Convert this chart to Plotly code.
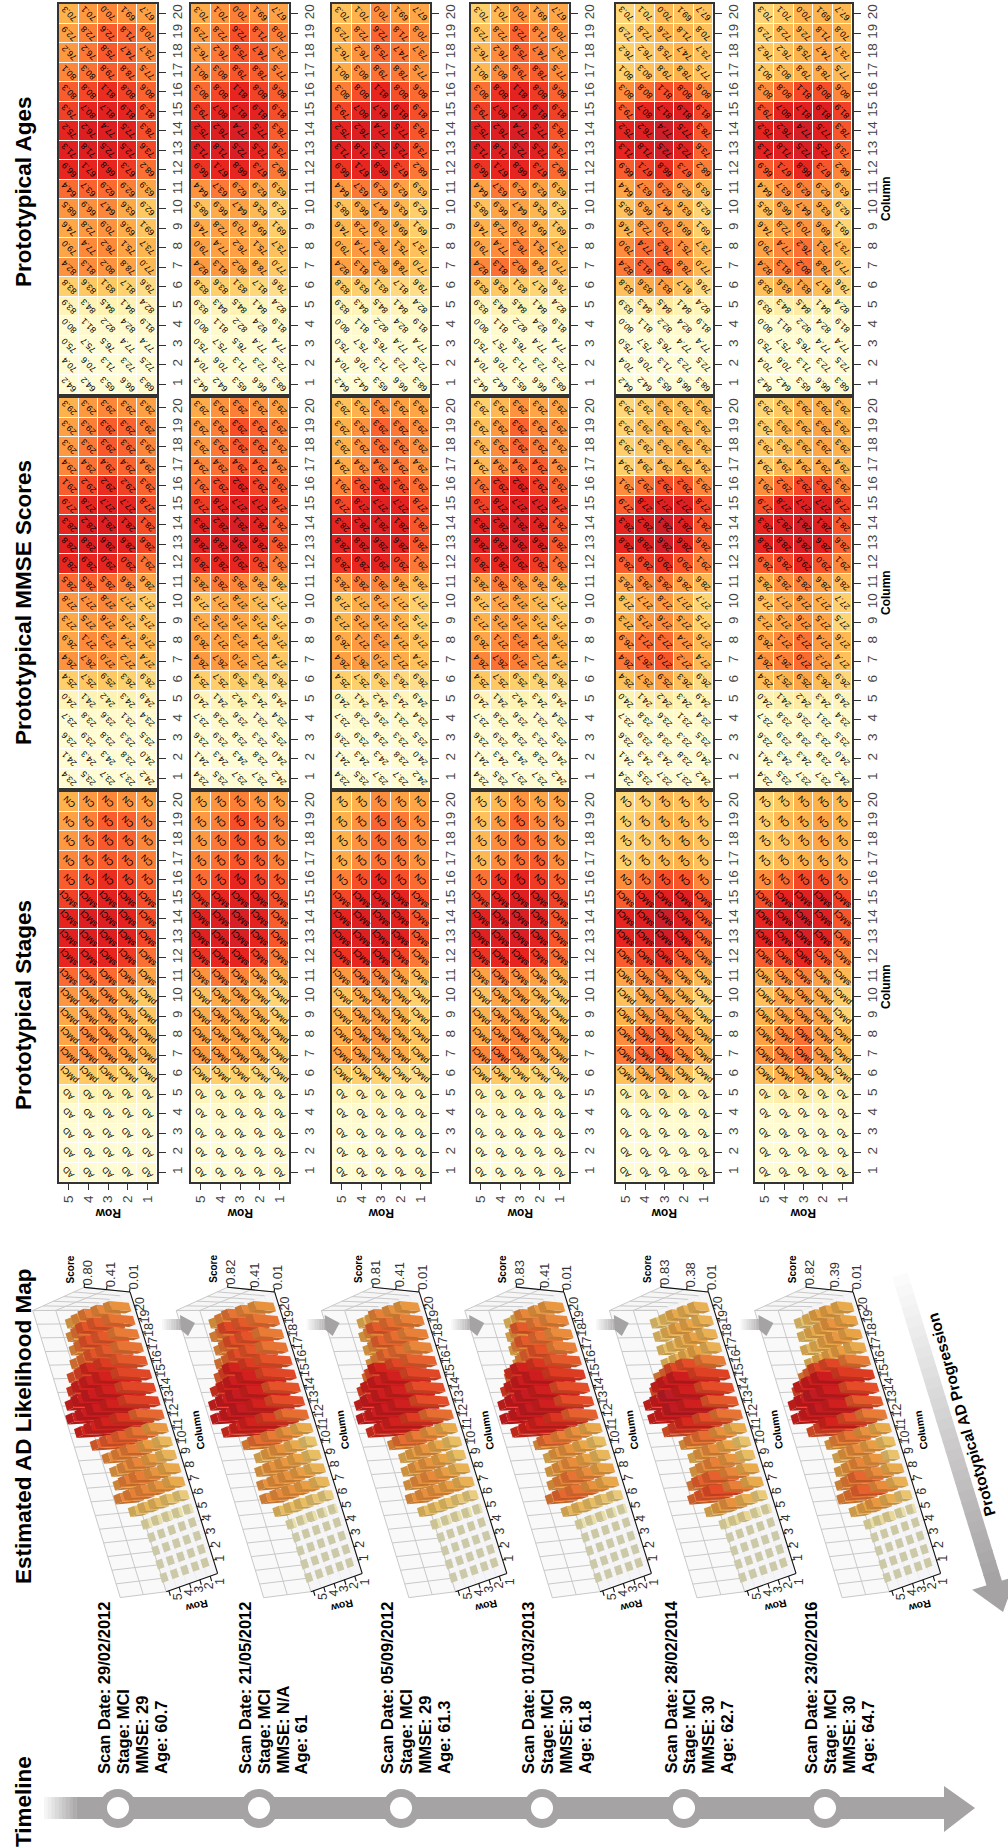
import plotly.graph_objects as go

FONT = "Liberation Sans"
ROW_ORDER = [5, 4, 3, 2, 1]
COLUMNS = list(range(1, 21))
EARLY = [[.01, .01, .01, .01, .02], [.01, .01, .01, .01, .01], [.01, .01, .01, .01, .01], [.01, .02, .02, .02, .02]]

# each list holds columns 1..20, each column gives rows 5,4,3,2,1
scores_1 = EARLY + [[.05, .06, .06, .06, .05], [.20, .22, .22, .19, .15], [.38, .40, .38, .33, .26], [.32, .41, .41, .33, .27],
    [.31, .36, .38, .30, .23], [.37, .39, .42, .31, .22], [.50, .52, .50, .44, .32], [.70, .72, .72, .64, .48],
    [.78, .80, .80, .74, .60], [.72, .80, .80, .74, .58], [.62, .72, .76, .72, .58], [.54, .60, .68, .62, .52],
    [.42, .48, .54, .52, .44], [.36, .46, .55, .52, .42], [.34, .44, .54, .52, .44], [.28, .36, .42, .38, .34]]
scores_2 = EARLY + [[.05, .05, .06, .05, .04], [.20, .20, .20, .17, .14], [.36, .36, .34, .30, .22], [.34, .34, .34, .30, .24],
    [.30, .34, .32, .28, .20], [.24, .30, .34, .26, .18], [.38, .46, .42, .34, .26], [.66, .70, .72, .62, .46],
    [.78, .80, .81, .72, .56], [.74, .80, .81, .74, .54], [.64, .72, .78, .74, .58], [.50, .60, .72, .62, .54],
    [.42, .48, .56, .54, .44], [.36, .46, .56, .54, .42], [.36, .44, .58, .52, .44], [.30, .38, .44, .38, .34]]
scores_3 = EARLY + [[.05, .05, .06, .05, .04], [.20, .20, .19, .16, .14], [.34, .35, .33, .30, .24], [.30, .36, .37, .30, .24],
    [.27, .33, .33, .28, .20], [.24, .30, .33, .27, .20], [.36, .46, .42, .34, .26], [.66, .70, .74, .62, .46],
    [.76, .79, .80, .76, .56], [.72, .80, .79, .74, .56], [.60, .72, .78, .74, .58], [.44, .58, .70, .58, .50],
    [.30, .40, .48, .46, .38], [.28, .38, .50, .46, .40], [.28, .38, .52, .46, .40], [.24, .28, .40, .34, .32]]
scores_4 = EARLY + [[.05, .06, .06, .05, .04], [.22, .22, .20, .18, .15], [.42, .48, .44, .34, .27], [.32, .40, .44, .36, .28],
    [.28, .34, .36, .28, .22], [.24, .32, .34, .27, .20], [.34, .46, .40, .34, .27], [.66, .70, .72, .64, .50],
    [.78, .80, .81, .76, .56], [.74, .80, .81, .76, .56], [.62, .74, .80, .78, .62], [.48, .66, .74, .64, .52],
    [.26, .40, .50, .54, .40], [.26, .40, .52, .46, .36], [.24, .36, .52, .42, .38], [.20, .26, .38, .32, .32]]
scores_5 = EARLY + [[.06, .08, .10, .06, .05], [.24, .30, .34, .24, .15], [.46, .52, .56, .40, .26], [.40, .50, .50, .38, .26],
    [.28, .36, .40, .32, .20], [.24, .32, .36, .28, .18], [.32, .42, .46, .34, .26], [.54, .62, .68, .56, .44],
    [.72, .78, .82, .76, .52], [.72, .79, .83, .77, .56], [.54, .70, .78, .79, .60], [.40, .48, .58, .56, .42],
    [.20, .24, .26, .28, .24], [.20, .22, .25, .28, .24], [.19, .24, .28, .27, .24], [.17, .20, .26, .24, .24]]
scores_6 = EARLY + [[.06, .08, .09, .06, .05], [.24, .28, .32, .25, .17], [.38, .44, .50, .36, .24], [.34, .42, .48, .36, .26],
    [.28, .34, .38, .32, .18], [.24, .32, .36, .30, .20], [.30, .40, .44, .34, .26], [.54, .60, .70, .56, .42],
    [.74, .78, .81, .76, .52], [.72, .80, .82, .78, .56], [.58, .74, .78, .80, .62], [.40, .50, .60, .58, .42],
    [.22, .26, .28, .30, .26], [.22, .24, .28, .32, .28], [.20, .26, .28, .33, .28], [.18, .22, .28, .28, .26]]
ALL_SCORES = [scores_1, scores_2, scores_3, scores_4, scores_5, scores_6]

ages = [[64.2, 64.2, 65.3, 66.6, 68.3], [70.4, 70.6, 71.3, 72.3, 72.5], [75.0, 75.7, 76.5, 77.4, 77.4], [80.0, 81.1, 82.2, 82.4, 81.9],
    [83.9, 84.3, 84.5, 84.1, 82.4], [83.8, 83.6, 83.1, 81.7, 79.6], [82.4, 81.3, 80.2, 78.8, 77.0], [79.0, 77.4, 76.2, 75.1, 73.7],
    [74.6, 72.8, 70.9, 69.6, 69.1], [68.5, 66.9, 64.7, 63.6, 62.9], [64.4, 63.7, 62.9, 62.9, 63.9], [66.9, 67.1, 66.8, 67.3, 68.2],
    [71.3, 71.8, 72.5, 72.5, 73.6], [75.2, 76.2, 77.4, 77.5, 78.3], [79.3, 80.7, 81.7, 81.9, 81.9], [80.3, 80.8, 81.1, 80.8, 80.6],
    [80.1, 80.3, 79.8, 78.8, 77.5], [76.2, 76.2, 75.8, 74.7, 73.7], [72.9, 72.8, 72.6, 71.8, 70.8], [70.3, 70.1, 70.0, 69.1, 67.7]]
mmse = [[23.4, 23.5, 23.7, 23.7, 24.2], [24.1, 24.3, 24.3, 23.8, 24.0], [23.6, 23.9, 23.8, 23.3, 23.5], [23.7, 23.8, 23.6, 23.1, 23.4],
    [24.0, 24.1, 24.2, 24.3, 24.9], [25.4, 25.7, 25.9, 26.3, 26.9], [26.4, 26.7, 27.0, 27.2, 27.4], [26.9, 27.1, 27.3, 27.4, 27.6],
    [27.3, 27.5, 27.6, 27.5, 27.5], [27.8, 27.7, 27.8, 27.7, 27.7], [28.5, 28.5, 28.5, 28.6, 28.6], [28.9, 28.9, 29.0, 29.0, 29.1],
    [28.8, 28.8, 28.6, 28.6, 28.6], [28.3, 28.2, 28.1, 28.1, 28.1], [27.9, 27.8, 27.7, 27.7, 27.8], [29.1, 29.2, 29.2, 29.2, 29.3],
    [29.4, 29.4, 29.4, 29.4, 29.4], [29.3, 29.3, 29.3, 29.3, 29.3], [29.3, 29.3, 29.3, 29.3, 29.3], [29.3, 29.3, 29.3, 29.3, 29.3]]
stage_by_column = ["AD"] * 5 + ["pMCI"] * 5 + ["sMCI"] * 5 + ["CN"] * 5

score_ticks = [[.80, .41, .01], [.82, .41, .01], [.81, .41, .01], [.83, .41, .01], [.83, .38, .01], [.82, .39, .01]]
scan_dates = ["29/02/2012", "21/05/2012", "05/09/2012", "01/03/2013", "28/02/2014", "23/02/2016"]
scan_stage = ["MCI"] * 6
scan_mmse = ["29", "N/A", "29", "30", "30", "30"]
scan_age = ["60.7", "61", "61.3", "61.8", "62.7", "64.7"]

W, H = 1008, 1848
PANEL_X = [(59, 157), (191, 289), (332, 430), (471, 569), (616, 713), (755, 852)]
GROUP_Y = [(4, 394), (398, 788), (792, 1182)]
CIRCLE_X = [118, 259, 401, 542, 684, 825]
GRAY = "#a5a3a3"

STOPS = [(0, "#fffcd4"), (.01, "#fffcd4"), (.06, "#fff3b4"), (.2, "#fecf6a"), (.28, "#feb24c"), (.4, "#fd8d3c"),
         (.55, "#f9582c"), (.7, "#e8261f"), (.8, "#de1f22"), (.83, "#cc1f2a"), (.9, "#bd0026")]
ZMAX = .9
COLORSCALE = [[v / ZMAX, c] for v, c in STOPS]


def rgb(h):
    return tuple(int(h[i:i + 2], 16) for i in (1, 3, 5))


def colour(v, k):
    for (a, ca), (b, cb) in zip(STOPS, STOPS[1:]):
        if v <= b:
            t = (v - a) / (b - a) if b > a else 0
            p, q = rgb(ca), rgb(cb)
            m = [(p[j] + (q[j] - p[j]) * t) * k for j in range(3)]
            return "rgb(%d,%d,%d)" % tuple(m)
    return "#bd0026"


def project(i, c, r, s):
    sy = (-12 + 3 * (r - 1) + .8 * (21 - c)) / 2.4
    x = 206 - 4.167 * (c - 1) - 10.33 * (r - 1) - 57.5 * s + 144.6 * i
    y = 1562.7 - 13.4 * (c - 1) + 3.67 * (r - 1) + sy * s
    return x, y


fig = go.Figure()
layout = {}
notes = []
shapes = []


def note(text, x, y, size, angle=-90, bold=False, color="#000", xref="x37", yref="y37", xa="center", ya="middle"):
    notes.append(dict(text="<b>%s</b>" % text if bold else text, x=x, y=y, xref=xref, yref=yref, showarrow=False,
                      textangle=angle, xanchor=xa, yanchor=ya, font=dict(family=FONT, size=size, color=color)))


n = 0
for g, (y0, y1) in enumerate(GROUP_Y):
    for p, (x0, x1) in enumerate(PANEL_X):
        n += 1
        fig.add_trace(go.Heatmap(z=ALL_SCORES[p], x=ROW_ORDER, y=COLUMNS, xaxis="x%d" % n, yaxis="y%d" % n, zmin=0, zmax=ZMAX,
                                 colorscale=COLORSCALE, showscale=False, xgap=1, ygap=1, hoverinfo="skip"))
        layout["xaxis%d" % n] = dict(domain=[x0 / W, x1 / W], range=[5.5, .5], anchor="y%d" % n, tickmode="array",
            tickvals=ROW_ORDER if g == 2 else [], ticks="outside" if g == 2 else "", ticklen=6, tickcolor="#333", tickwidth=1,
            tickangle=-90, showgrid=False, zeroline=False, showline=True, mirror=True, linecolor="#333", linewidth=2,
            tickfont=dict(family=FONT, size=13.5, color="#444"), showticklabels=g == 2)
        layout["yaxis%d" % n] = dict(domain=[1 - y1 / H, 1 - y0 / H], range=[.5, 20.5], anchor="x%d" % n, side="right", tickmode="array",
            tickvals=COLUMNS, ticks="outside", ticklen=7, tickcolor="#333", tickwidth=1, tickangle=-90, showgrid=False, zeroline=False,
            showline=True, mirror=True, linecolor="#333", linewidth=2, tickfont=dict(family=FONT, size=13.5, color="#444"))
        for ci, col in enumerate(COLUMNS):
            for ri, row in enumerate(ROW_ORDER):
                if g == 0:
                    t = "%.1f" % ages[ci][ri]
                elif g == 1:
                    t = "%.1f" % mmse[ci][ri]
                else:
                    t = stage_by_column[ci]
                note(t, row, col, 8.7, 225, False, "#000", "x%d" % n, "y%d" % n)

layout["xaxis37"] = dict(domain=[0, 1], range=[0, W], visible=False, anchor="y37", fixedrange=True)
layout["yaxis37"] = dict(domain=[0, 1], range=[H, 0], visible=False, anchor="x37", fixedrange=True)


def poly(points, fill):
    fig.add_trace(go.Scatter(x=[q[0] for q in points], y=[q[1] for q in points], xaxis="x37", yaxis="y37", mode="none",
                             fill="toself", fillcolor=fill, hoverinfo="skip", showlegend=False))


def seglines(segs, color, width):
    xs, ys = [], []
    for a, b in segs:
        xs += [a[0], b[0], None]
        ys += [a[1], b[1], None]
    fig.add_trace(go.Scatter(x=xs, y=ys, xaxis="x37", yaxis="y37", mode="lines", line=dict(color=color, width=width),
                             hoverinfo="skip", showlegend=False))


R0, R1, C0, C1 = .28, 5.25, 0, 21
for i in range(6):
    top = score_ticks[i][0]
    P = lambda c, r, s: project(i, c, r, s)
    poly([P(C0, R0, 0), P(C1, R0, 0), P(C1, R1, 0), P(C0, R1, 0)], "#f5f5f7")
    poly([P(C0, R1, 0), P(C1, R1, 0), P(C1, R1, top), P(C0, R1, top)], "#f9f9f9")
    poly([P(C1, R0, 0), P(C1, R1, 0), P(C1, R1, top), P(C1, R0, top)], "#f6f6f6")
    floor = [(P(c, R0, 0), P(c, R1, 0)) for c in range(C0, C1 + 1)]
    floor += [(P(C0, R0 + k * (R1 - R0) / 5, 0), P(C1, R0 + k * (R1 - R0) / 5, 0)) for k in range(6)]
    seglines(floor, "#e9e9ec", .7)
    grid = [(P(c, R1, 0), P(c, R1, top)) for c in range(C0, C1 + 1)]
    grid += [(P(C0, R1, top * k / 2), P(C1, R1, top * k / 2)) for k in range(3)]
    grid += [(P(C1, R0 + k * (R1 - R0) / 5, 0), P(C1, R0 + k * (R1 - R0) / 5, top)) for k in range(6)]
    grid += [(P(C1, R0, top * k / 2), P(C1, R1, top * k / 2)) for k in range(1, 3)]
    seglines(grid, "#c9c9c9", 1)

    w = .32
    m = ALL_SCORES[i]
    for c in range(20, 0, -1):
        for ri, r in enumerate(ROW_ORDER):
            v = m[c - 1][ri]
            if v >= .03:
                poly([P(c - w, r - w, v), P(c - w, r + w, v), P(c - w, r + w, 0), P(c - w, r - w, 0)], colour(v, .76))
                poly([P(c - w, r - w, v), P(c + w, r - w, v), P(c + w, r - w, 0), P(c - w, r - w, 0)], colour(v, .92))
            poly([P(c - w, r - w, v), P(c + w, r - w, v), P(c + w, r + w, v), P(c - w, r + w, v)], colour(v, .8))

    axes = [(P(C1, R0, 0), P(C0, R0, 0)), (P(C0, R0, 0), P(C0, R1, 0)), (P(C1, R0, 0), P(C1, R0, top))]
    axes += [(P(c, R0, 0), (P(c, R0, 0)[0] + 3, P(c, R0, 0)[1] - .5)) for c in COLUMNS]
    axes += [(P(C0, r, 0), (P(C0, r, 0)[0] + 1.5, P(C0, r, 0)[1] + 5)) for r in ROW_ORDER]
    axes += [(P(C1, R0, t), (P(C1, R0, t)[0] + .5, P(C1, R0, t)[1] - 4)) for t in score_ticks[i]]
    seglines(axes, "#111", 1.1)

    for c in COLUMNS:
        x, y = P(c, 0, 0)
        note(str(c), x + 3.3, y - 1, 12.5, color="#333")
    for r in ROW_ORDER:
        x, y = P(C0, r, 0)
        note(str(r), x + 10, y + 5.7, 12.5, color="#333")
    for t in score_ticks[i]:
        x, y = P(C1, R0, t)
        note("%.2f" % t, x + 3.5, y - 14.5, 13, color="#333")
    x, y = P(C1, R0, top)
    note("Score", x - 14, y - 18, 10, bold=True)
    note("Column", 197.7 + 144.6 * i, 1430, 10.5, angle=-99, bold=True)
    note("Row", 197 + 144.6 * i, 1606, 10.5, angle=166, bold=True)

    # scan text and timeline marks
    base = CIRCLE_X[i] - 14
    lines = ["Scan Date: " + scan_dates[i], "Stage: " + scan_stage[i], "MMSE: " + scan_mmse[i], "Age: " + scan_age[i]]
    for k, t in enumerate(lines):
        note(t, base + k * 18.8, 1776, 16.5, bold=True, ya="bottom")
    note("Row", (PANEL_X[i][0] + PANEL_X[i][1]) / 2, 1213, 12, angle=180, bold=True)

for y, t in [(199, 0), (593, 1), (987, 2)]:
    note("Column", 886, y, 12, bold=True)

for t, y in [("Prototypical Ages", 192), ("Prototypical MMSE Scores", 603), ("Prototypical Stages", 1005),
             ("Estimated AD Likelihood Map", 1427), ("Timeline", 1802)]:
    note(t, 23, y, 22.5, bold=True)
note("Prototypical AD Progression", 961, 1415, 15.5, angle=-106, bold=True)


def mix(t):
    a = (255, 255, 255)
    b = rgb(GRAY)
    return "rgb(%d,%d,%d)" % tuple(a[j] + (b[j] - a[j]) * t for j in range(3))


def path_shape(points, fill):
    d = "M" + "L".join("%.2f,%.2f" % q for q in points) + "Z"
    shapes.append(dict(type="path", path=d, xref="x37", yref="y37", fillcolor=fill, line=dict(width=0), layer="above"))


# gradient arrows between panels
for i in range(5):
    dx = 144.6 * i
    steps = 12
    for s in range(steps):
        a, b = 162 + 20 * s / steps, 162 + 20 * (s + 1.1) / steps
        path_shape([(a + dx, 1319), (b + dx, 1319), (b + dx, 1330), (a + dx, 1330)], mix((s + 1) / steps * .85))
    path_shape([(180 + dx, 1315), (195 + dx, 1323), (188 + dx, 1336), (181 + dx, 1330)], GRAY)

# big diagonal arrow
steps = 30
sx, sy_, tipx, tipy = 900, 1275, 1003, 1612
ux, uy = (tipx - sx) / 352.4, (tipy - sy_) / 352.4
nx, ny = uy, -ux
blen = 322
for s in range(steps):
    a, b = blen * s / steps, blen * (s + 1.1) / steps
    path_shape([(sx + ux * a + nx * 8, sy_ + uy * a + ny * 8), (sx + ux * b + nx * 8, sy_ + uy * b + ny * 8),
                (sx + ux * b - nx * 8, sy_ + uy * b - ny * 8), (sx + ux * a - nx * 8, sy_ + uy * a - ny * 8)], mix((s + 1) / steps))
hx, hy = sx + ux * blen, sy_ + uy * blen
path_shape([(hx + nx * 23, hy + ny * 23), (tipx, tipy), (hx - nx * 23, hy - ny * 23)], GRAY)

# timeline
for s in range(10):
    a, b = 44 + 36 * s / 10, 44 + 36 * (s + 1.1) / 10
    path_shape([(a, 1797), (b, 1797), (b, 1819), (a, 1819)], mix((s + 1) / 10))
path_shape([(80, 1797), (944, 1797), (944, 1786), (975, 1808), (944, 1832), (944, 1819), (80, 1819)], GRAY)
for cx in CIRCLE_X:
    shapes.append(dict(type="circle", xref="x37", yref="y37", x0=cx - 19, x1=cx + 19, y0=1789, y1=1828, fillcolor=GRAY, line=dict(width=0), layer="above"))
    shapes.append(dict(type="circle", xref="x37", yref="y37", x0=cx - 11, x1=cx + 11, y0=1797, y1=1819, fillcolor="#ffffff", line=dict(width=0), layer="above"))

fig.update_layout(width=W, height=H, margin=dict(l=0, r=0, t=0, b=0), paper_bgcolor="white", plot_bgcolor="rgba(0,0,0,0)",
                  showlegend=False, annotations=notes, shapes=shapes, **layout)
fig.write_html("out.html", config=dict(displayModeBar=False),
               post_script="document.body.style.margin='0';document.documentElement.style.overflow='hidden';")
